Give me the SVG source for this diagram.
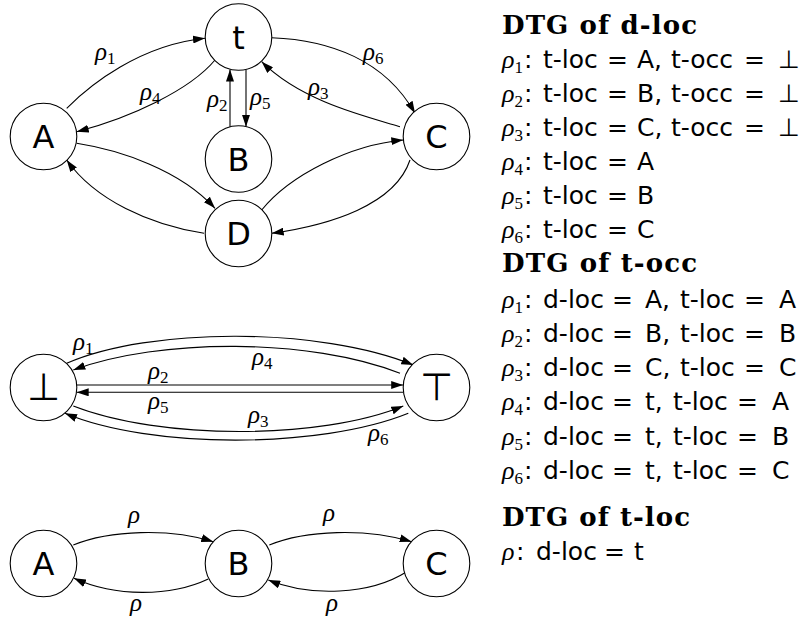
<svg xmlns="http://www.w3.org/2000/svg" width="811" height="621" viewBox="0 0 811 621">
<style>
.n circle{fill:#fff;stroke:#000;stroke-width:1.1}
.nl{font-family:"DejaVu Sans",sans-serif;font-size:32px;text-anchor:middle;fill:#000}
.big{font-size:38px}
.e{fill:none;stroke:#000;stroke-width:1.1;marker-end:url(#ah)}
.lab{font-family:"Liberation Serif",serif;font-style:italic;font-size:25px;fill:#000}
.sb{font-family:"Liberation Serif",serif;font-style:normal;font-size:17px}
.r{font-family:"DejaVu Sans",sans-serif;font-size:25px;fill:#000}
.it{font-family:"Liberation Serif",serif;font-style:italic;font-size:26px}
.ttl{font-family:"DejaVu Serif",serif;font-weight:bold;font-size:26px;fill:#000}
</style>
<defs>
<marker id="ah" markerWidth="12" markerHeight="8" refX="12" refY="4" orient="auto" markerUnits="userSpaceOnUse"><path d="M0,0 L12,4 L0,8 z" fill="#000"/></marker>
</defs>

<g id="connectors">
<!-- DTG of d-loc -->
<path class="e" d="M66.7,108.3 C90,85 140,45 205,38.3"/>
<path class="e" d="M215,60 C190,90 130,118 76.7,131.7"/>
<path class="e" d="M230,126.8 L230,69.5"/>
<path class="e" d="M246,69.5 L246,126.8"/>
<path class="e" d="M271.7,37.7 C330,40 385,60 415,113.3"/>
<path class="e" d="M400,126.7 C360,115 300,100 261.7,61.7"/>
<path class="e" d="M76.7,143.3 C120,150 180,170 215,208.3"/>
<path class="e" d="M204,233.3 C150,225 95,200 66.7,160"/>
<path class="e" d="M261.7,210 C290,175 350,145 403.3,140"/>
<path class="e" d="M410,160 C395,205 330,225 271.7,233.3"/>
<!-- DTG of t-occ -->
<path class="e" d="M66.7,363.3 C150,327 320,327 413.3,365"/>
<path class="e" d="M400,373.3 C310,338 160,338 73.3,370"/>
<path class="e" d="M76.7,385 L403.2,385"/>
<path class="e" d="M403.2,392.3 L76.7,392.3"/>
<path class="e" d="M73.3,406 C160,440 320,440 403.3,406"/>
<path class="e" d="M408.3,413.3 C320,449 150,449 65,413.3"/>
<!-- DTG of t-loc -->
<path class="e" d="M73.3,545 C110,530 170,528 213.3,541.7"/>
<path class="e" d="M208.3,579 C170,597 115,597 74,578.3"/>
<path class="e" d="M269.3,545 C306,530 366,528 411.7,541.7"/>
<path class="e" d="M406.7,571.7 C370,595 310,597 268.3,580"/>

<g id="edge-labels">
<text class="lab" x="95" y="60">ρ<tspan class="sb" dy="4">1</tspan></text>
<text class="lab" x="140" y="100">ρ<tspan class="sb" dy="4">4</tspan></text>
<text class="lab" x="207" y="107">ρ<tspan class="sb" dy="4">2</tspan></text>
<text class="lab" x="250" y="105">ρ<tspan class="sb" dy="4">5</tspan></text>
<text class="lab" x="308" y="95">ρ<tspan class="sb" dy="4">3</tspan></text>
<text class="lab" x="363" y="60">ρ<tspan class="sb" dy="4">6</tspan></text>

<text class="lab" x="73" y="350">ρ<tspan class="sb" dy="4">1</tspan></text>
<text class="lab" x="252" y="365">ρ<tspan class="sb" dy="4">4</tspan></text>
<text class="lab" x="148" y="379">ρ<tspan class="sb" dy="4">2</tspan></text>
<text class="lab" x="148" y="409">ρ<tspan class="sb" dy="4">5</tspan></text>
<text class="lab" x="248" y="423">ρ<tspan class="sb" dy="4">3</tspan></text>
<text class="lab" x="368" y="441">ρ<tspan class="sb" dy="4">6</tspan></text>

<text class="lab" x="128" y="523">ρ</text>
<text class="lab" x="323" y="521">ρ</text>
<text class="lab" x="130" y="611">ρ</text>
<text class="lab" x="326" y="611">ρ</text>
</g>
</g>

<!-- nodes: DTG of d-loc -->
<g id="dloc-t" class="n"><circle cx="238.5" cy="37" r="33.3"/><text class="nl" x="238.5" y="49">t</text></g>
<g id="dloc-A" class="n"><circle cx="43.5" cy="136.5" r="33.3"/><text class="nl" x="43.5" y="148">A</text></g>
<g id="dloc-B" class="n"><circle cx="238.5" cy="159" r="33.3"/><text class="nl" x="238.5" y="170.5">B</text></g>
<g id="dloc-C" class="n"><circle cx="436.5" cy="136.5" r="33.3"/><text class="nl" x="436.5" y="148">C</text></g>
<g id="dloc-D" class="n"><circle cx="238.5" cy="233.5" r="33.3"/><text class="nl" x="238.5" y="245">D</text></g>
<!-- nodes: DTG of t-occ -->
<g id="tocc-bot" class="n"><circle cx="43.5" cy="387.5" r="33.3"/><text class="nl big" x="43.5" y="400">⊥</text></g>
<g id="tocc-top" class="n"><circle cx="436.5" cy="387.5" r="33.3"/><text class="nl big" x="436.5" y="400">⊤</text></g>
<!-- nodes: DTG of t-loc -->
<g id="tloc-A" class="n"><circle cx="43.5" cy="563.5" r="33.3"/><text class="nl" x="43.5" y="575">A</text></g>
<g id="tloc-B" class="n"><circle cx="238.5" cy="563.5" r="33.3"/><text class="nl" x="238.5" y="575">B</text></g>
<g id="tloc-C" class="n"><circle cx="436.5" cy="563.5" r="33.3"/><text class="nl" x="436.5" y="575">C</text></g>

<g id="legend">
<text class="ttl" x="502" y="34" textLength="195" lengthAdjust="spacing">DTG of d-loc</text>
<text class="r" y="68"><tspan class="it" x="502">ρ</tspan><tspan class="sb" dy="5">1</tspan><tspan x="524" y="68">:</tspan><tspan x="543">t-loc</tspan><tspan x="607">=</tspan><tspan x="637">A,</tspan><tspan x="671">t-occ</tspan><tspan x="744">=</tspan><tspan x="778">⊥</tspan></text>
<text class="r" y="102"><tspan class="it" x="502">ρ</tspan><tspan class="sb" dy="5">2</tspan><tspan x="524" y="102">:</tspan><tspan x="543">t-loc</tspan><tspan x="607">=</tspan><tspan x="637">B,</tspan><tspan x="671">t-occ</tspan><tspan x="744">=</tspan><tspan x="778">⊥</tspan></text>
<text class="r" y="136"><tspan class="it" x="502">ρ</tspan><tspan class="sb" dy="5">3</tspan><tspan x="524" y="136">:</tspan><tspan x="543">t-loc</tspan><tspan x="607">=</tspan><tspan x="637">C,</tspan><tspan x="671">t-occ</tspan><tspan x="744">=</tspan><tspan x="778">⊥</tspan></text>
<text class="r" y="170"><tspan class="it" x="502">ρ</tspan><tspan class="sb" dy="5">4</tspan><tspan x="524" y="170">:</tspan><tspan x="543">t-loc</tspan><tspan x="607">=</tspan><tspan x="637">A</tspan></text>
<text class="r" y="204"><tspan class="it" x="502">ρ</tspan><tspan class="sb" dy="5">5</tspan><tspan x="524" y="204">:</tspan><tspan x="543">t-loc</tspan><tspan x="607">=</tspan><tspan x="637">B</tspan></text>
<text class="r" y="238"><tspan class="it" x="502">ρ</tspan><tspan class="sb" dy="5">6</tspan><tspan x="524" y="238">:</tspan><tspan x="543">t-loc</tspan><tspan x="607">=</tspan><tspan x="637">C</tspan></text>

<text class="ttl" x="502" y="272" textLength="195" lengthAdjust="spacing">DTG of t-occ</text>
<text class="r" y="308"><tspan class="it" x="502">ρ</tspan><tspan class="sb" dy="5">1</tspan><tspan x="524" y="308">:</tspan><tspan x="543">d-loc</tspan><tspan x="612">=</tspan><tspan x="645">A,</tspan><tspan x="680">t-loc</tspan><tspan x="744">=</tspan><tspan x="779">A</tspan></text>
<text class="r" y="342"><tspan class="it" x="502">ρ</tspan><tspan class="sb" dy="5">2</tspan><tspan x="524" y="342">:</tspan><tspan x="543">d-loc</tspan><tspan x="612">=</tspan><tspan x="645">B,</tspan><tspan x="680">t-loc</tspan><tspan x="744">=</tspan><tspan x="779">B</tspan></text>
<text class="r" y="376"><tspan class="it" x="502">ρ</tspan><tspan class="sb" dy="5">3</tspan><tspan x="524" y="376">:</tspan><tspan x="543">d-loc</tspan><tspan x="612">=</tspan><tspan x="645">C,</tspan><tspan x="680">t-loc</tspan><tspan x="744">=</tspan><tspan x="779">C</tspan></text>
<text class="r" y="410"><tspan class="it" x="502">ρ</tspan><tspan class="sb" dy="5">4</tspan><tspan x="524" y="410">:</tspan><tspan x="543">d-loc</tspan><tspan x="612">=</tspan><tspan x="645">t,</tspan><tspan x="673">t-loc</tspan><tspan x="737">=</tspan><tspan x="772">A</tspan></text>
<text class="r" y="445"><tspan class="it" x="502">ρ</tspan><tspan class="sb" dy="5">5</tspan><tspan x="524" y="445">:</tspan><tspan x="543">d-loc</tspan><tspan x="612">=</tspan><tspan x="645">t,</tspan><tspan x="673">t-loc</tspan><tspan x="737">=</tspan><tspan x="772">B</tspan></text>
<text class="r" y="479"><tspan class="it" x="502">ρ</tspan><tspan class="sb" dy="5">6</tspan><tspan x="524" y="479">:</tspan><tspan x="543">d-loc</tspan><tspan x="612">=</tspan><tspan x="645">t,</tspan><tspan x="673">t-loc</tspan><tspan x="737">=</tspan><tspan x="772">C</tspan></text>

<text class="ttl" x="502" y="526" textLength="188" lengthAdjust="spacing">DTG of t-loc</text>
<text class="r" y="560"><tspan class="it" x="502">ρ</tspan><tspan x="516">:</tspan><tspan x="536">d-loc</tspan><tspan x="604">=</tspan><tspan x="634">t</tspan></text>
</g>
</svg>
